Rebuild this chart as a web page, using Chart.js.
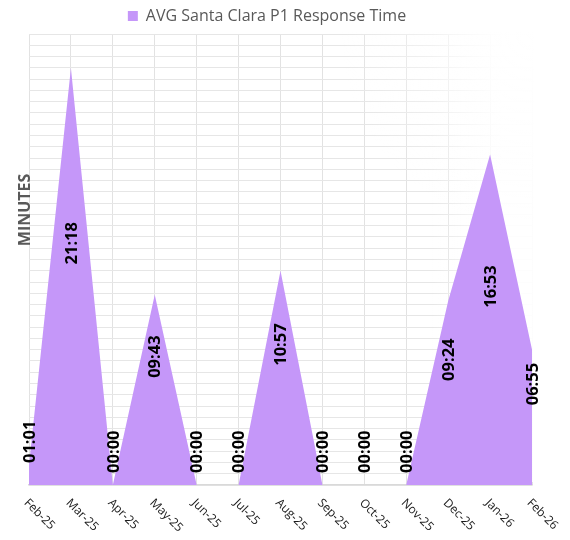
<!DOCTYPE html>
<html>
<head>
<meta charset="utf-8">
<script src="https://cdn.jsdelivr.net/npm/chart.js@4.4.1/dist/chart.umd.min.js"></script>
<style>
  html, body { margin: 0; padding: 0; background: #ffffff; }
  #wrap { width: 570px; height: 540px; position: relative; }
</style>
</head>
<body>
<div id="wrap"><canvas id="chart"></canvas></div>
<script>
// Months on the category axis
const months = ['Feb-25', 'Mar-25', 'Apr-25', 'May-25', 'Jun-25', 'Jul-25', 'Aug-25',
                'Sep-25', 'Oct-25', 'Nov-25', 'Dec-25', 'Jan-26', 'Feb-26'];

// Average P1 response time per month, in seconds
const avgResponseSeconds = [61, 1278, 0, 583, 0, 0, 657, 0, 0, 0, 564, 1013, 415];

// Value axis: 0 to 23:02.4 (0.016 day), split into 40 grid bands
const yAxisMaxSeconds = 1382.4;
const yGridBands = 40;

const seriesName = 'AVG Santa Clara P1 Response Time';
const axisTitle = 'MINUTES';

const fillPurple = '#c597f9';
const labelFont = '"Open Sans", "DejaVu Sans", sans-serif';

function mmss(sec) {
  const m = Math.floor(sec / 60);
  const s = Math.round(sec - m * 60);
  return String(m).padStart(2, '0') + ':' + String(s).padStart(2, '0');
}

// Softens the grid toward the upper right of the plot
const gridFade = {
  id: 'gridFade',
  beforeDatasetsDraw(chart) {
    const { ctx, chartArea: a } = chart;
    ctx.save();
    const g = ctx.createLinearGradient(a.right - 100, 0, a.right - 30, 0);
    g.addColorStop(0, 'rgba(255,255,255,0)');
    g.addColorStop(1, 'rgba(255,255,255,0.92)');
    ctx.fillStyle = g;
    ctx.fillRect(a.left, a.top - 2, a.right - a.left + 2, a.bottom - a.top - 1);
    const r = ctx.createRadialGradient(a.right, a.top, 0, a.right, a.top, 190);
    r.addColorStop(0, 'rgba(255,255,255,0.9)');
    r.addColorStop(1, 'rgba(255,255,255,0)');
    ctx.fillStyle = r;
    ctx.fillRect(a.left, a.top - 2, a.right - a.left + 2, a.bottom - a.top - 1);
    ctx.restore();
  }
};

// Vertical value labels, rotated month labels and the axis title
const annotations = {
  id: 'annotations',
  afterDatasetsDraw(chart) {
    const { ctx, chartArea: a } = chart;
    const xs = chart.scales.x;
    const ys = chart.scales.y;
    const data = chart.data.datasets[0].data;

    ctx.save();
    ctx.fillStyle = '#000000';
    ctx.font = 'bold 16.5px ' + labelFont;
    ctx.textAlign = 'center';
    ctx.textBaseline = 'middle';
    data.forEach((v, i) => {
      const x = xs.getPixelForValue(i);
      const y = ys.getPixelForValue(v / 2 + 102);
      ctx.save();
      ctx.translate(x, y);
      ctx.rotate(-Math.PI / 2);
      ctx.fillText(mmss(v), 0, 1);
      ctx.restore();
    });
    ctx.restore();

    ctx.save();
    ctx.fillStyle = '#1a1a1a';
    ctx.font = '12px ' + labelFont;
    ctx.textAlign = 'left';
    ctx.textBaseline = 'middle';
    chart.data.labels.forEach((lab, i) => {
      const x = xs.getPixelForValue(i);
      ctx.save();
      ctx.translate(x - 3, a.bottom + 16);
      ctx.rotate(Math.PI / 4);
      ctx.fillText(lab, 0, 0);
      ctx.restore();
    });
    ctx.restore();

    ctx.save();
    ctx.fillStyle = '#595959';
    ctx.font = 'bold 16px ' + labelFont;
    ctx.textAlign = 'center';
    ctx.textBaseline = 'middle';
    ctx.translate(a.left - 4, a.top + (a.bottom - a.top) * 0.39);
    ctx.rotate(-Math.PI / 2);
    ctx.fillText(axisTitle, 0, 0);
    ctx.restore();
  }
};

new Chart(document.getElementById('chart'), {
  type: 'line',
  data: {
    labels: months,
    datasets: [{
      label: seriesName,
      data: avgResponseSeconds,
      fill: 'origin',
      backgroundColor: fillPurple,
      borderColor: fillPurple,
      borderWidth: 0,
      pointRadius: 0,
      pointHoverRadius: 0,
      tension: 0
    }]
  },
  options: {
    responsive: true,
    maintainAspectRatio: false,
    animation: false,
    layout: { padding: { left: 2, right: 38, top: 2, bottom: 55 } },
    plugins: {
      legend: {
        position: 'top',
        labels: {
          boxWidth: 10,
          boxHeight: 10,
          padding: 6,
          color: '#595959',
          font: { family: labelFont, size: 16 }
        }
      },
      tooltip: { enabled: false }
    },
    scales: {
      x: {
        offset: false,
        ticks: { display: false },
        grid: { color: '#e2e2e2', lineWidth: 1, drawTicks: false },
        border: { color: '#d9d9d9', width: 1.5 }
      },
      y: {
        min: 0,
        max: yAxisMaxSeconds,
        ticks: { display: false, count: yGridBands + 1 },
        grid: { color: '#e6e6e6', lineWidth: 1, drawTicks: false },
        border: { display: false },
        afterFit(scale) { scale.width = 27; }
      }
    }
  },
  plugins: [gridFade, annotations]
});
</script>
</body>
</html>
